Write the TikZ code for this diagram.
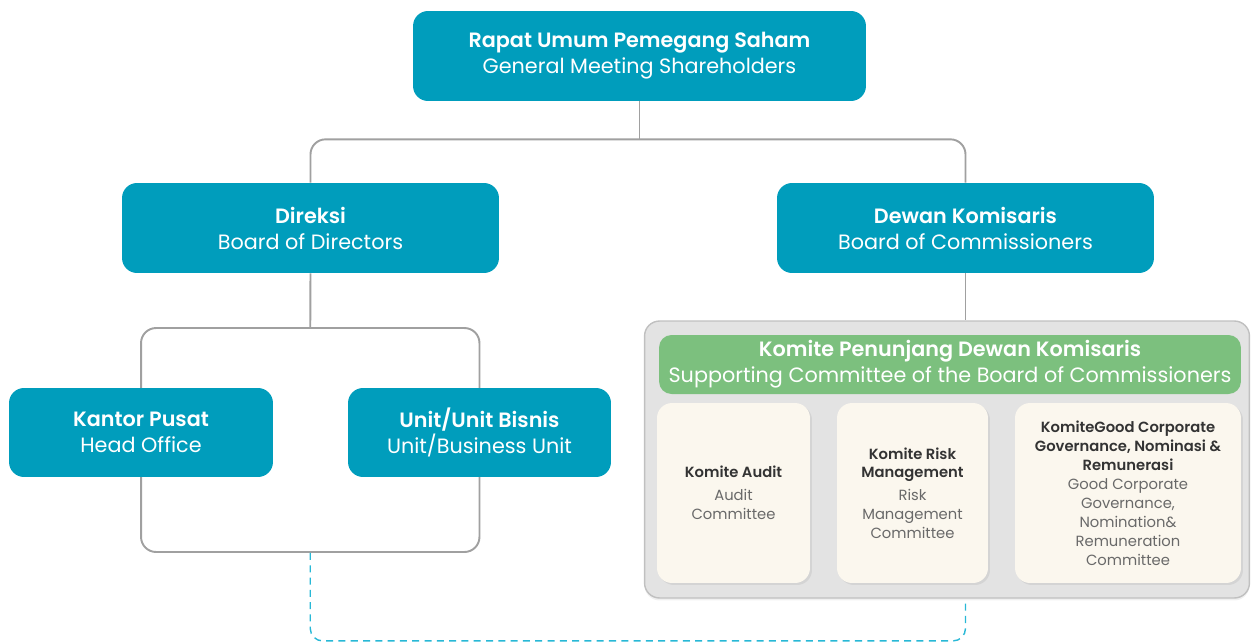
\documentclass[tikz,border=0pt]{standalone}
\usepackage{fontspec}
\setmainfont{Poppins}[BoldFont={Poppins SemiBold}]
\usepackage{tikz}
\usetikzlibrary{positioning,shadows}
\definecolor{orgteal}{RGB}{0,157,188}
\definecolor{orggreen}{RGB}{124,192,126}
\definecolor{linegrey}{RGB}{160,160,160}
\definecolor{dashcyan}{RGB}{40,184,214}
\definecolor{panelgrey}{RGB}{227,227,227}
\definecolor{panelline}{RGB}{192,192,192}
\definecolor{cream}{RGB}{251,247,238}
\definecolor{headtext}{RGB}{51,51,51}
\definecolor{subtext}{RGB}{105,105,105}
\newcommand{\komhead}[1]{\textcolor{headtext}{\textbf{#1}}}

\begin{document}
\begin{tikzpicture}[x=0.02cm, y=-0.02cm,
  every node/.style={font=\fontsize{11.8}{14.8}\selectfont, align=center, inner sep=0pt},
  tealbox/.style={fill=orgteal, text=white, rounded corners=0.3cm, minimum height=1.8cm,
    execute at begin node={\rule{0pt}{13pt}}},
  conn/.style={draw=linegrey, line width=1.1pt},
  dashconn/.style={draw=dashcyan, line width=0.8pt, dash pattern=on 4pt off 3pt},
  kombox/.style={fill=cream, text=subtext, rounded corners=0.3cm, minimum height=3.6cm,
    font=\fontsize{8.4}{10.8}\selectfont,
    drop shadow={opacity=0.15, shadow xshift=0.04cm, shadow yshift=-0.04cm}}]

  \useasboundingbox (0,0) rectangle (1252,643);

  % ========== TOP : RUPS AND BOARDS ==========
  \node[tealbox, minimum width=9.06cm] (rups) at (639.5,56)
    {\textbf{Rapat Umum Pemegang Saham}\\General Meeting Shareholders};
  \node[tealbox, minimum width=7.54cm] (direksi) at (310.5,228)
    {\textbf{Direksi}\\Board of Directors};
  \node[tealbox, minimum width=7.54cm] (dekom) at (965.5,228)
    {\textbf{Dewan Komisaris}\\Board of Commissioners};

  \draw[conn] (rups.south) -- ++(0,38) coordinate (split);
  \draw[conn, rounded corners=0.3cm] (direksi.north) |- (split) -| (dekom.north);

  % ========== LEFT : DIRECTORS ==========
  \node[conn, rounded corners=0.3cm, minimum width=6.77cm, minimum height=4.48cm]
    (frame) at (310.25,440) {};
  \draw[conn] (direksi.south) -- (frame.north);

  \node[tealbox, minimum width=5.28cm, minimum height=1.78cm] (pusat) at (141,432.5)
    {\textbf{Kantor Pusat}\\Head Office};
  \node[tealbox, minimum width=5.26cm, minimum height=1.78cm] (unit) at (479.5,432.5)
    {\textbf{Unit/Unit Bisnis}\\Unit/Business Unit};

  % ========== RIGHT : COMMITTEES ==========
  \node[fill=panelgrey, draw=panelline, line width=0.8pt, rounded corners=0.3cm,
        minimum width=12.1cm, minimum height=5.54cm,
        drop shadow={opacity=0.12, shadow xshift=0cm, shadow yshift=-0.05cm}]
    (panel) at (947,459.5) {};
  \draw[conn] (dekom.south) -- (dekom.south |- panel.north);

  \node[fill=orggreen, text=white, rounded corners=0.25cm, minimum width=11.64cm,
        minimum height=1.18cm, execute at begin node={\rule{0pt}{12pt}}] (komite) at (950,364.5)
    {\textbf{Komite Penunjang Dewan Komisaris}\\Supporting Committee of the Board of Commissioners};

  \node[kombox, minimum width=3.06cm] (audit) at (733.5,493)
    {\komhead{Komite Audit}\\[2pt]Audit\\Committee};
  \node[kombox, minimum width=3.02cm] (risk) at (912.5,493)
    {\komhead{Komite Risk}\\\komhead{Management}\\[2pt]Risk\\Management\\Committee};
  \node[kombox, minimum width=4.52cm] (gcg) at (1128,493)
    {\komhead{KomiteGood Corporate}\\\komhead{Governance, Nominasi \&}\\\komhead{Remunerasi}\\
     Good Corporate\\Governance,\\Nomination\&\\Remuneration\\Committee};

  % Dashed link
  \draw[dashconn, rounded corners=0.25cm] (frame.south) -- ++(0,88) -| (dekom.south |- panel.south);

\end{tikzpicture}
\end{document}
